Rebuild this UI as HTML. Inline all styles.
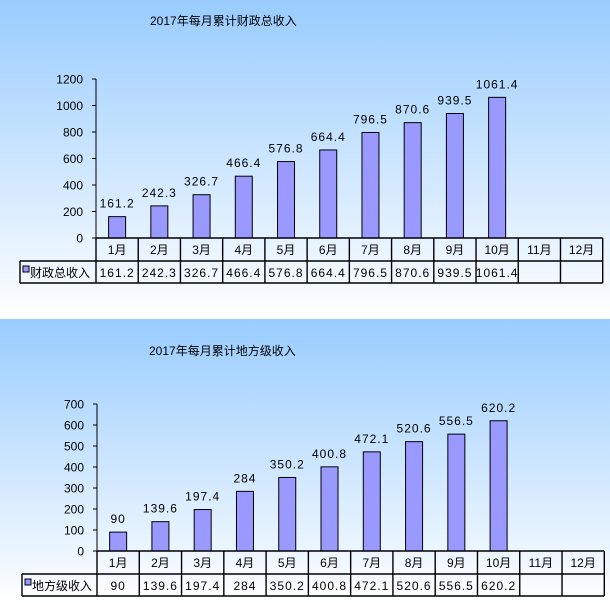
<!DOCTYPE html>
<html><head><meta charset="utf-8"><style>
html,body{margin:0;padding:0;background:#fff}
svg{display:block;font-family:"Liberation Sans","Noto Sans CJK SC",sans-serif}
</style></head><body>
<svg id="root" width="610" height="603" viewBox="0 0 610 603">
<defs>
<linearGradient id="g" x1="0" y1="0" x2="0" y2="1"><stop offset="0" stop-color="#99ccff"/><stop offset="1" stop-color="#ffffff"/></linearGradient>
</defs>
<rect x="0" y="0" width="610" height="319" fill="url(#g)"/>
<rect x="0" y="319" width="610" height="284" fill="url(#g)"/>
<text x="150" y="25" font-size="12">2017年每月累计财政总收入</text>
<text x="149" y="355" font-size="12">2017年每月累计地方级收入</text>
</svg>
<script>
const categories = ['1月','2月','3月','4月','5月','6月','7月','8月','9月','10月','11月','12月'];
const totalRevenue = [161.2,242.3,326.7,466.4,576.8,664.4,796.5,870.6,939.5,1061.4,null,null];
const localRevenue = [90,139.6,197.4,284,350.2,400.8,472.1,520.6,556.5,620.2,null,null];
const ticks1 = [0,200,400,600,800,1000,1200];
const ticks2 = [0,100,200,300,400,500,600,700];
const seriesName1 = '财政总收入';
const seriesName2 = '地方级收入';
const NS='http://www.w3.org/2000/svg';
const root=document.getElementById('root');
function mk(tag,attrs,parent){const e=document.createElementNS(NS,tag);for(const k in attrs)e.setAttribute(k,attrs[k]);(parent||root).appendChild(e);return e;}
function fmt(v){return String(v);}
function chart(prefix,values,ticks,name,ax,y0,yTop,right,tableLeft){
  const g=mk('g',{});
  
  
  const max=ticks[ticks.length-1];
  const yS=v=>y0-(v/max)*(y0-yTop);
  const cw=(right-ax)/categories.length;
  const xS=i=>ax+cw*i;
  // axis
  const axis=mk('line',{x1:ax,y1:yTop,x2:ax,y2:y0,stroke:'#000','stroke-width':1},g);
  
  
  ticks.forEach(t=>{
    const y=yS(t);
    const tk=mk('line',{x1:ax-4,y1:y,x2:ax,y2:y,stroke:'#000'},g);
    
    
    const tl=mk('text',{x:ax-13,y:y+4.5,'font-size':12,'text-anchor':'end'},g);
    tl.textContent=t;
    
    
  });
  values.forEach((v,i)=>{
    if(v==null)return;
    const cx=xS(i)+cw/2;
    const b=mk('rect',{x:cx-8.5,y:yS(v),width:17,height:y0-yS(v),fill:'#9999ff',stroke:'#000','stroke-width':1},g);
    
    
    const l=mk('text',{x:cx,y:yS(v)-9,'font-size':12,'text-anchor':'middle','letter-spacing':'1'},g);
    l.textContent=fmt(v);
    
    
  });
  // table
  const r1=y0, r2=y0+23, r3=y0+45;
  const t=mk('g',{fill:'none',stroke:'#000','stroke-width':1.4},g);
  
  
  mk('line',{x1:ax,y1:r1,x2:right,y2:r1},t);
  mk('line',{x1:tableLeft,y1:r2,x2:right,y2:r2},t);
  mk('line',{x1:tableLeft,y1:r3,x2:right,y2:r3},t);
  mk('line',{x1:tableLeft,y1:r2,x2:tableLeft,y2:r3},t);
  for(let i=0;i<=categories.length;i++){mk('line',{x1:xS(i),y1:r1,x2:xS(i),y2:r3},t);}
  categories.forEach((c,i)=>{
    const ct=mk('text',{x:xS(i)+cw/2,y:r1+16,'font-size':12,'text-anchor':'middle'},g);
    ct.textContent=c;
    
    
    if(values[i]!=null){
      const vt=mk('text',{x:xS(i)+cw/2,y:r2+16,'font-size':12,'text-anchor':'middle','letter-spacing':'1'},g);
      vt.textContent=fmt(values[i]);
      
      
    }
  });
  const sw=mk('rect',{x:tableLeft+3,y:r2+5,width:6,height:6,fill:'#9999ff',stroke:'#000'},g);
  
  
  const ln=mk('text',{x:tableLeft+10,y:r2+16,'font-size':12},g);
  ln.textContent=name;
  
  
}
chart('total-revenue',totalRevenue,ticks1,seriesName1,96,238,79,602.7,20);
chart('local-revenue',localRevenue,ticks2,seriesName2,97,551,404,604.3,22);
</script>
</body></html>
